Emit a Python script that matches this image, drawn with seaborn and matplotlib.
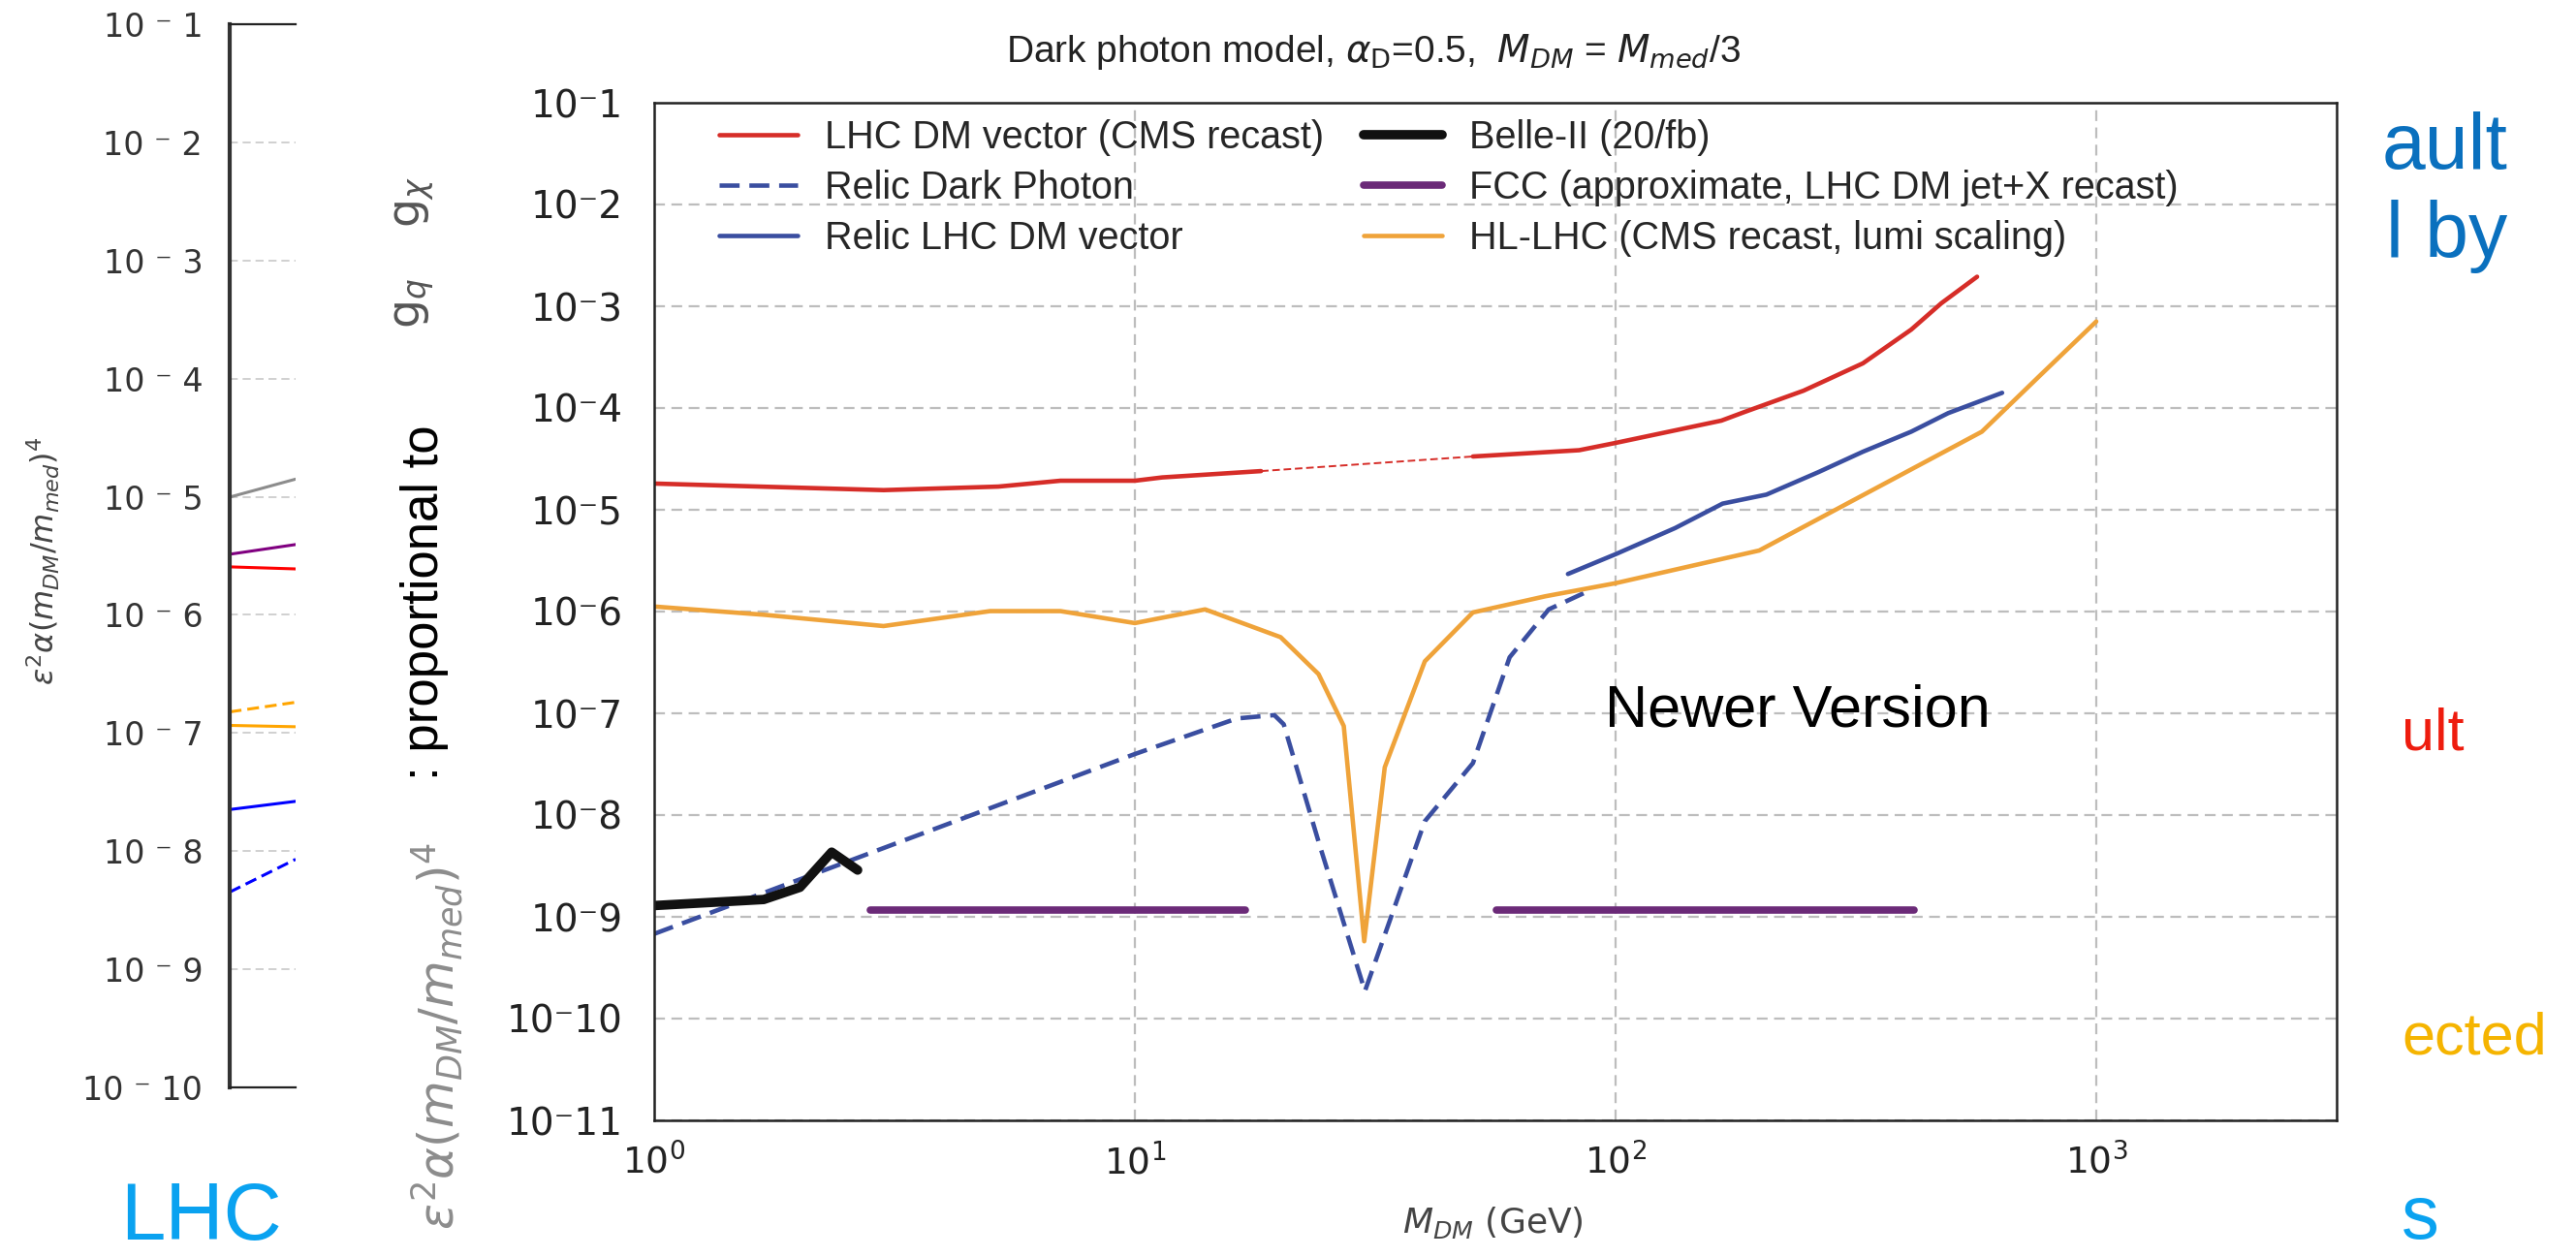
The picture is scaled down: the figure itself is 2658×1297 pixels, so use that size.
import matplotlib
matplotlib.use("Agg")

import matplotlib.pyplot as plt
import matplotlib.ticker as mticker
import numpy as np
import seaborn as sns

# ---- main panel: M_DM (GeV) vs eps^2 alpha (m_DM/m_med)^4 ----
red_lo_x = [1.0, 3.0, 5.2, 7.0, 10.0, 11.4, 18.3]
red_lo_y = [1.81e-5, 1.56e-5, 1.69e-5, 1.93e-5, 1.93e-5, 2.08e-5, 2.40e-5]
red_gap_x = [18.3, 50.5]
red_gap_y = [2.40e-5, 3.34e-5]
red_hi_x = [50.5, 84.0, 100.0, 166.0, 185.0, 246.0, 327.0, 412.0, 476.0, 565.0]
red_hi_y = [3.34e-5, 3.85e-5, 4.54e-5, 7.52e-5, 9.1e-5, 1.48e-4, 2.75e-4, 5.89e-4, 1.07e-3, 1.95e-3]

relic_dp_x = [1.0, 10.0, 16.3, 19.5, 20.4, 24.1, 30.1, 40.1, 50.5, 60.2, 72.6, 87.5]
relic_dp_y = [6.8e-10, 3.98e-8, 8.9e-8, 9.6e-8, 7.8e-8, 5.5e-9, 1.86e-10, 8.7e-9, 3.24e-8, 3.55e-7, 1.05e-6, 1.58e-6]

relic_lhc_x = [79.6, 100.0, 133.0, 167.0, 206.0, 264.0, 327.0, 412.0, 492.0, 637.0]
relic_lhc_y = [2.34e-6, 3.66e-6, 6.61e-6, 1.15e-5, 1.41e-5, 2.34e-5, 3.72e-5, 5.85e-5, 8.91e-5, 1.41e-4]

belle_x = [1.0, 1.69, 2.01, 2.34, 2.65]
belle_y = [1.29e-9, 1.48e-9, 1.95e-9, 4.32e-9, 2.88e-9]

fcc_lo_x = [2.82, 17.0]
fcc_hi_x = [56.5, 418.0]
fcc_y = [1.17e-9, 1.17e-9]

hllhc_x = [1.0, 1.69, 3.0, 5.0, 7.0, 10.0, 14.0, 20.1, 24.1, 27.2, 30.0, 33.1,
           40.1, 50.5, 71.3, 100.0, 199.0, 578.0, 768.0, 1000.0]
hllhc_y = [1.12e-6, 9.3e-7, 7.2e-7, 1.01e-6, 1.01e-6, 7.7e-7, 1.05e-6, 5.6e-7, 2.43e-7, 7.5e-8,
           5.75e-10, 2.95e-8, 3.24e-7, 9.8e-7, 1.41e-6, 1.9e-6, 3.98e-6, 5.85e-5, 2.14e-4, 7.08e-4]

legend_order = [
    "LHC DM vector (CMS recast)",
    "Relic Dark Photon",
    "Relic LHC DM vector",
    "Belle-II (20/fb)",
    "FCC (approximate, LHC DM jet+X recast)",
    "HL-LHC (CMS recast, lumi scaling)",
]

# ---- cut-off older panel on the left ----
old_x = [1.0, 1.3]
old_gray = [9.93e-6, 1.41e-5]
old_purple = [3.26e-6, 3.94e-6]
old_red = [2.55e-6, 2.45e-6]
old_orange_dash = [1.51e-7, 1.82e-7]
old_orange = [1.16e-7, 1.13e-7]
old_blue = [2.25e-8, 2.64e-8]
old_blue_dash = [4.5e-9, 8.53e-9]

RED = "#d62d28"
BLUE = "#3a4ea0"
ORANGE = "#efa33a"
PURPLE = "#6b2a78"

W, H = 2658, 1297

sns.set_theme(style="white")
plt.rcParams["font.family"] = ["Liberation Sans", "DejaVu Sans"]
plt.rcParams["mathtext.fontset"] = "dejavusans"
plt.rcParams["axes.linewidth"] = 1.6


def fx(px):
    return px / W


def fy(py):
    return 1 - py / H


fig = plt.figure(figsize=(W / 100, H / 100), dpi=100)
fig.patch.set_facecolor("white")

# main axes: 10^0 at x=675, right spine at 2411, 10^-1 at y=106, 10^-11 at y=1156
ax = fig.add_axes([fx(675), fy(1156), fx(2411) - fx(675), fy(106) - fy(1156)])
ax.set_xscale("log")
ax.set_yscale("log")

sns.lineplot(x=red_lo_x, y=red_lo_y, ax=ax, color=RED, linewidth=3.3,
             estimator=None, sort=False, label=legend_order[0])
sns.lineplot(x=red_gap_x, y=red_gap_y, ax=ax, color=RED, linewidth=1.4,
             estimator=None, sort=False, linestyle=(0, (4, 2)))
sns.lineplot(x=red_hi_x, y=red_hi_y, ax=ax, color=RED, linewidth=3.3,
             estimator=None, sort=False)
sns.lineplot(x=relic_dp_x, y=relic_dp_y, ax=ax, color=BLUE, linewidth=3.3,
             estimator=None, sort=False, linestyle=(0, (4.5, 2.2)), label=legend_order[1])
sns.lineplot(x=relic_lhc_x, y=relic_lhc_y, ax=ax, color=BLUE, linewidth=3.3,
             estimator=None, sort=False, label=legend_order[2])
sns.lineplot(x=belle_x, y=belle_y, ax=ax, color="#111111", linewidth=7,
             estimator=None, sort=False, label=legend_order[3])
sns.lineplot(x=fcc_lo_x, y=fcc_y, ax=ax, color=PURPLE, linewidth=5.5,
             estimator=None, sort=False, label=legend_order[4])
sns.lineplot(x=fcc_hi_x, y=fcc_y, ax=ax, color=PURPLE, linewidth=5.5,
             estimator=None, sort=False)
sns.lineplot(x=hllhc_x, y=hllhc_y, ax=ax, color=ORANGE, linewidth=3.3,
             estimator=None, sort=False, label=legend_order[5])

ax.set_xlim(1, 10 ** 3.5)
ax.set_ylim(1e-11, 1e-1)
ax.set_xticks([1, 10, 100, 1000])
ax.set_yticks([10.0 ** -k for k in range(1, 12)])
ax.xaxis.set_minor_locator(mticker.NullLocator())
ax.yaxis.set_minor_locator(mticker.NullLocator())
ax.xaxis.set_major_formatter(mticker.LogFormatterMathtext())
ax.yaxis.set_major_formatter(
    mticker.FuncFormatter(lambda v, p: "10\u207b%d" % int(round(-np.log10(v)))))
ax.tick_params(axis="both", direction="out", length=9, width=1.5, color="black",
               labelcolor="#222222", labelfontfamily="DejaVu Sans")
ax.tick_params(axis="y", labelsize=28, pad=14)
ax.tick_params(axis="x", labelsize=27, pad=8)
ax.grid(True, which="major", color="#bdbdbd", linestyle=(0, (5, 3)), linewidth=1.6)
ax.set_xlabel("")
ax.set_ylabel("")
for s in ax.spines.values():
    s.set_color("#222222")
    s.set_linewidth(1.8)

handles, labels = ax.get_legend_handles_labels()
lookup = dict(zip(labels, handles))
ax.legend([lookup[k] for k in legend_order], legend_order, ncol=2,
          loc="upper left", bbox_to_anchor=(0.0384, 0.984), frameon=False,
          fontsize=28.5, handlelength=2.05, handletextpad=0.7,
          columnspacing=1.05, labelspacing=0.36, borderpad=0, borderaxespad=0)

# old panel on the left, cut off at x=305
axl = fig.add_axes([fx(237), fy(1122), fx(305) - fx(237), fy(25) - fy(1122)])
axl.set_xscale("log")
axl.set_yscale("log")
sns.lineplot(x=old_x, y=old_gray, ax=axl, color="#8c8c8c", linewidth=2.2, estimator=None)
sns.lineplot(x=old_x, y=old_purple, ax=axl, color="#800080", linewidth=2.2, estimator=None)
sns.lineplot(x=old_x, y=old_red, ax=axl, color="#ff0000", linewidth=2.2, estimator=None)
sns.lineplot(x=old_x, y=old_orange_dash, ax=axl, color="#ffa500", linewidth=2.2,
             estimator=None, linestyle=(0, (4, 2)))
sns.lineplot(x=old_x, y=old_orange, ax=axl, color="#ffa500", linewidth=2.2, estimator=None)
sns.lineplot(x=old_x, y=old_blue, ax=axl, color="#0000ff", linewidth=2.2, estimator=None)
sns.lineplot(x=old_x, y=old_blue_dash, ax=axl, color="#0000ff", linewidth=2.2,
             estimator=None, linestyle=(0, (4, 2)))
axl.set_xlim(1.0, 1.3)
axl.set_ylim(1e-10, 1e-1)
axl.set_yticks([10.0 ** -k for k in range(1, 11)])
axl.yaxis.set_minor_locator(mticker.NullLocator())
axl.xaxis.set_minor_locator(mticker.NullLocator())
axl.set_xticks([])
axl.yaxis.set_major_formatter(
    mticker.FuncFormatter(lambda v, p: "10 \u207b %d" % int(round(-np.log10(v)))))
axl.tick_params(axis="y", direction="out", length=10, width=1.4, color="#222222",
                labelsize=24, pad=10, labelcolor="#333333", labelfontfamily="DejaVu Sans")
axl.grid(True, axis="y", color="#c8c8c8", linestyle=(0, (5, 3)), linewidth=1.2)
axl.spines["right"].set_visible(False)
axl.spines["left"].set_linewidth(3)
axl.spines["left"].set_color("#333333")
for side in ("top", "bottom"):
    axl.spines[side].set_linewidth(1.6)
    axl.spines[side].set_color("#222222")
axl.set_xlabel("")
axl.set_ylabel("")

fig.text(fx(45), fy(579), r"$\epsilon^2\alpha(m_{DM}/m_{med})^4$", rotation=90,
         ha="center", va="center", fontsize=23, color="#444444")

# titles and labels of the main chart
fig.text(fx(1417), fy(53), r"Dark photon model, $\alpha_{\rm D}$=0.5,  $M_{DM}$ = $M_{med}$/3",
         ha="center", va="center", fontsize=28, color="#222222")
fig.text(fx(1540), fy(1262), r"$M_{DM}$ (GeV)", ha="center", va="center",
         fontsize=26, color="#444444", family="DejaVu Sans")
fig.text(fx(428), fy(209), r"$\mathrm{g}_\chi$", rotation=90, ha="center", va="center",
         fontsize=34, color="#555555")
fig.text(fx(428), fy(313), r"$\mathrm{g}_q$", rotation=90, ha="center", va="center",
         fontsize=34, color="#555555")
fig.text(fx(438), fy(622), ": proportional to", rotation=90, ha="center", va="center",
         fontsize=38, color="black")
fig.text(fx(451), fy(1069), r"$\epsilon^2\alpha(m_{DM}/m_{med})^4$", rotation=90,
         ha="center", va="center", fontsize=36, color="#8c8c8c")
fig.text(fx(1855), fy(734), "Newer Version", ha="center", va="center",
         fontsize=44, color="black")

# slide text peeking out around the pasted chart
fig.text(fx(2458), fy(174), "ault", ha="left", va="baseline", fontsize=58, color="#0a70be")
fig.text(fx(2462), fy(265), "l by", ha="left", va="baseline", fontsize=58, color="#0a70be")
fig.text(fx(2478), fy(773), "ult", ha="left", va="baseline", fontsize=44, color="#ee1c0e")
fig.text(fx(2478), fy(1088), "ected", ha="left", va="baseline", fontsize=44, color="#f5b400")
fig.text(fx(2478), fy(1278), "s", ha="left", va="baseline", fontsize=56, color="#0aa2f0")
fig.text(fx(124), fy(1279), "LHC", ha="left", va="baseline", fontsize=60, color="#0aa2f0")

fig.savefig("out.png", dpi=100)
